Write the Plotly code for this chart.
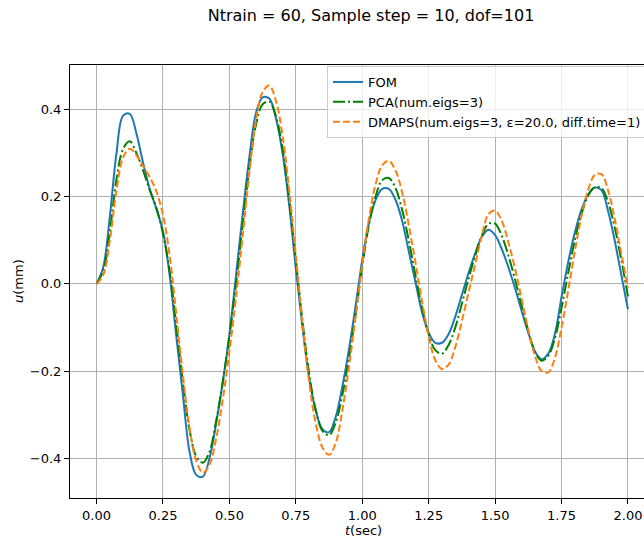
import plotly.graph_objects as go

# Time samples (s) and displacement responses (mm)
t = [i * 0.025 for i in range(81)]

fom = [0.000, 0.038, 0.155, 0.300, 0.386, 0.390, 0.345, 0.278, 0.218, 0.172,
       0.120, 0.020, -0.120, -0.255, -0.385, -0.438, -0.442, -0.400, -0.320, -0.225,
       -0.115, 0.020, 0.160, 0.290, 0.392, 0.428, 0.425, 0.380, 0.300, 0.180,
       0.035, -0.100, -0.215, -0.290, -0.333, -0.340, -0.305, -0.235, -0.150, -0.050,
       0.055, 0.140, 0.192, 0.218, 0.218, 0.193, 0.145, 0.075, 0.005, -0.065,
       -0.112, -0.135, -0.135, -0.115, -0.075, -0.025, 0.025, 0.070, 0.108, 0.124,
       0.112, 0.080, 0.038, -0.010, -0.062, -0.112, -0.155, -0.173, -0.160, -0.115,
       -0.030, 0.050, 0.118, 0.170, 0.205, 0.221, 0.215, 0.168, 0.100, 0.020,
       -0.058]

pca = [0.000, 0.030, 0.120, 0.240, 0.310, 0.327, 0.300, 0.260, 0.215, 0.175,
       0.115, 0.030, -0.095, -0.225, -0.335, -0.395, -0.410, -0.385, -0.315, -0.225,
       -0.120, 0.000, 0.135, 0.265, 0.365, 0.412, 0.418, 0.385, 0.310, 0.195,
       0.055, -0.085, -0.205, -0.290, -0.337, -0.347, -0.318, -0.255, -0.170, -0.070,
       0.040, 0.135, 0.200, 0.238, 0.243, 0.220, 0.170, 0.100, 0.020, -0.055,
       -0.115, -0.152, -0.160, -0.140, -0.100, -0.045, 0.012, 0.065, 0.110, 0.138,
       0.138, 0.110, 0.065, 0.010, -0.050, -0.108, -0.155, -0.176, -0.165, -0.125,
       -0.055, 0.025, 0.100, 0.160, 0.202, 0.222, 0.220, 0.188, 0.130, 0.055,
       -0.029]

dmaps = [0.000, 0.020, 0.100, 0.215, 0.290, 0.310, 0.295, 0.270, 0.245, 0.212,
         0.158, 0.065, -0.070, -0.210, -0.330, -0.405, -0.433, -0.415, -0.355, -0.265,
         -0.155, -0.030, 0.110, 0.255, 0.375, 0.440, 0.455, 0.420, 0.340, 0.215,
         0.065, -0.090, -0.225, -0.320, -0.375, -0.392, -0.365, -0.290, -0.190, -0.075,
         0.045, 0.150, 0.228, 0.272, 0.282, 0.260, 0.210, 0.135, 0.050, -0.040,
         -0.120, -0.175, -0.195, -0.185, -0.145, -0.085, -0.020, 0.045, 0.110, 0.160,
         0.168, 0.145, 0.095, 0.035, -0.035, -0.105, -0.165, -0.200, -0.203, -0.170,
         -0.100, -0.015, 0.075, 0.155, 0.215, 0.250, 0.252, 0.215, 0.150, 0.070,
         -0.010]

x_ticks = [0.0, 0.25, 0.5, 0.75, 1.0, 1.25, 1.5, 1.75, 2.0]
y_ticks = [-0.4, -0.2, 0.0, 0.2, 0.4]

FONT = "DejaVu Sans, Liberation Sans, sans-serif"
FS = 13

fig = go.Figure()
fig.add_trace(go.Scatter(x=t, y=fom, mode="lines", name="FOM",
                         line=dict(color="#1f77b4", width=2, shape="spline")))
fig.add_trace(go.Scatter(x=t, y=pca, mode="lines", name="PCA(num.eigs=3)",
                         line=dict(color="#008000", width=2, shape="spline",
                                   dash="12px,3px,2px,3px")))
fig.add_trace(go.Scatter(x=t, y=dmaps, mode="lines",
                         name="DMAPS(num.eigs=3, ε=20.0, diff.time=1)",
                         line=dict(color="#ff7f0e", width=2, shape="spline",
                                   dash="7px,3px")))

W, H = 644, 541
L, R, T, B = 70, 0, 65, 43

fig.update_layout(
    width=W, height=H,
    margin=dict(l=L, r=R, t=T, b=B, autoexpand=False),
    paper_bgcolor="white", plot_bgcolor="white",
    font=dict(family=FONT, size=FS, color="black"),
    showlegend=True,
    legend=dict(xref="container", yref="container",
                x=327 / W, y=1 - 66 / H,
                xanchor="left", yanchor="top",
                bgcolor="rgba(255,255,255,0.8)", bordercolor="#cccccc",
                borderwidth=1, font=dict(family=FONT, size=FS)),
    title=dict(text="Ntrain = 60, Sample step = 10, dof=101",
               x=371 / W, xanchor="center", xref="container",
               y=1 - 15 / H, yanchor="middle", yref="container",
               font=dict(family=FONT, size=16, color="black")),
)

fig.update_xaxes(range=[-0.1, (W - 98) / 265.0], tickvals=x_ticks, tickformat=".2f",
                 showgrid=True, gridcolor="#b0b0b0", gridwidth=1,
                 zeroline=False, showline=True, linecolor="black", linewidth=1,
                 mirror=True, ticks="outside", ticklen=5, tickcolor="black",
                 tickangle=0,
                 tickfont=dict(family=FONT, size=FS, color="black"))
fig.update_yaxes(range=[-0.491, 0.502], tickvals=y_ticks, tickformat=".1f",
                 showgrid=True, gridcolor="#b0b0b0", gridwidth=1,
                 zeroline=False, showline=True, linecolor="black", linewidth=1,
                 mirror=False, ticks="outside", ticklen=5, tickcolor="black",
                 tickfont=dict(family=FONT, size=FS, color="black"))

fig.add_annotation(text="<i>t</i>(sec)", xref="paper", yref="paper",
                   x=(363 - L) / (W - L - R), y=-(530 - (H - B)) / (H - T - B),
                   xanchor="center", yanchor="middle", showarrow=False,
                   font=dict(family=FONT, size=FS, color="black"))
fig.add_annotation(text="<i>u</i>(mm)", xref="paper", yref="paper",
                   x=-(L - 18) / (W - L - R), y=(H - B - 281) / (H - T - B),
                   xanchor="center", yanchor="middle", textangle=-90,
                   showarrow=False,
                   font=dict(family=FONT, size=FS, color="black"))

fig.write_html("out.html")
